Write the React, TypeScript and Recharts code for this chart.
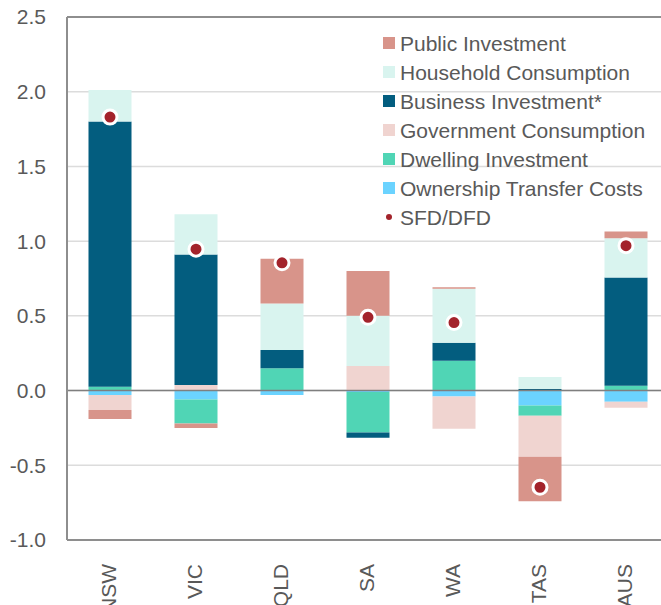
import {
  ComposedChart,
  Bar,
  Line,
  XAxis,
  YAxis,
  CartesianGrid,
  ReferenceLine,
} from "recharts";

// Contribution to state final demand growth, by component (ppt)
const states = ["NSW", "VIC", "QLD", "SA", "WA", "TAS", "AUS"];
const ownershipTransfer = [-0.03, -0.06, -0.03, -0.01, -0.04, -0.1, -0.075];
const dwellingInv = [0.026, -0.16, 0.15, -0.27, 0.2, -0.068, 0.033];
const govConsumption = [-0.1, 0.037, 0, 0.165, -0.215, -0.275, -0.04];
const businessInv = [1.775, 0.873, 0.122, -0.035, 0.12, 0.01, 0.723];
const householdCons = [0.21, 0.27, 0.31, 0.335, 0.362, 0.08, 0.263];
const publicInv = [-0.06, -0.03, 0.3, 0.3, 0.01, -0.297, 0.045];
const sfdDfd = [1.83, 0.946, 0.855, 0.49, 0.455, -0.647, 0.97];
const yTicks = [-1, -0.5, 0, 0.5, 1, 1.5, 2, 2.5];

// stacking order (bottom up), legend shows it reversed
const series = [
  { key: "ownership", name: "Ownership Transfer Costs", color: "#6bd3ff", vals: ownershipTransfer },
  { key: "dwelling", name: "Dwelling Investment", color: "#50d5b5", vals: dwellingInv },
  { key: "gov", name: "Government Consumption", color: "#f0d4d0", vals: govConsumption },
  { key: "business", name: "Business Investment*", color: "#035d7f", vals: businessInv },
  { key: "household", name: "Household Consumption", color: "#d9f4ef", vals: householdCons },
  { key: "public", name: "Public Investment", color: "#d8948a", vals: publicInv },
];

const data = states.map((s, i) => {
  const row: Record<string, string | number> = { state: s, sfd: sfdDfd[i] };
  series.forEach((se) => (row[se.key] = se.vals[i]));
  return row;
});

const FONT = "'Liberation Sans', Arial, sans-serif";
const TXT = "#595959";
const DOT = "#a3232b";

function StateTick(props: any) {
  const { x, y, payload } = props;
  const ty = y + 22;
  return (
    <text
      x={x - 2}
      y={ty}
      transform={`rotate(-90, ${x - 2}, ${ty})`}
      textAnchor="end"
      dominantBaseline="central"
      fontSize={21}
      fill={TXT}
      fontFamily={FONT}
    >
      {payload.value}
    </text>
  );
}

function LegendBox() {
  const items = [...series].reverse();
  return (
    <div
      style={{
        position: "absolute",
        left: 383,
        top: 28.5,
        fontFamily: FONT,
        fontSize: 21,
        color: TXT,
        lineHeight: "29px",
      }}
    >
      {items.map((it) => (
        <div key={it.key} style={{ display: "flex", alignItems: "center", height: 29 }}>
          <span style={{ width: 12, height: 12, background: it.color, marginRight: 5 }} />
          <span style={{ whiteSpace: "nowrap" }}>{it.name}</span>
        </div>
      ))}
      <div style={{ display: "flex", alignItems: "center", height: 29 }}>
        <span style={{ width: 12, height: 12, display: "flex", alignItems: "center", justifyContent: "center", marginRight: 5 }}>
          <span style={{ width: 6, height: 6, borderRadius: 3, background: DOT }} />
        </span>
        <span>SFD/DFD</span>
      </div>
    </div>
  );
}

export default function App() {
  return (
    <div
      style={{
        position: "absolute",
        left: 0,
        top: 0,
        width: 661,
        height: 605,
        overflow: "hidden",
        background: "#fff",
      }}
    >
      <ComposedChart
        width={680}
        height={605}
        data={data}
        stackOffset="sign"
        barCategoryGap="25%"
        margin={{ top: 17, right: 11, left: 0, bottom: 0 }}
      >
        <CartesianGrid horizontal vertical={false} stroke="#dcdcdc" strokeWidth={1.5} />
        <XAxis
          dataKey="state"
          height={65}
          tickLine={false}
          tickSize={0}
          axisLine={{ stroke: "#8e8e8e", strokeWidth: 2 }}
          tick={<StateTick />}
          interval={0}
        />
        <YAxis
          width={67}
          domain={[-1, 2.5]}
          ticks={yTicks}
          tickFormatter={(v: number) => v.toFixed(1)}
          tickLine={false}
          tickSize={0}
          tickMargin={21}
          axisLine={{ stroke: "#8e8e8e", strokeWidth: 2 }}
          tick={{ fontSize: 21, fill: TXT, fontFamily: FONT }}
          allowDataOverflow
        />
        {series.map((se) => (
          <Bar
            key={se.key}
            dataKey={se.key}
            name={se.name}
            stackId="a"
            fill={se.color}
            isAnimationActive={false}
          />
        ))}
        <ReferenceLine y={2.5} stroke="#8e8e8e" strokeWidth={2} />
        <ReferenceLine y={0} stroke="#7f7f7f" strokeWidth={1.5} />
        <Line
          dataKey="sfd"
          name="SFD/DFD"
          stroke="none"
          dot={{ r: 7, fill: DOT, stroke: "#fff", strokeWidth: 3 }}
          activeDot={false}
          isAnimationActive={false}
        />
      </ComposedChart>
      <LegendBox />
    </div>
  );
}
